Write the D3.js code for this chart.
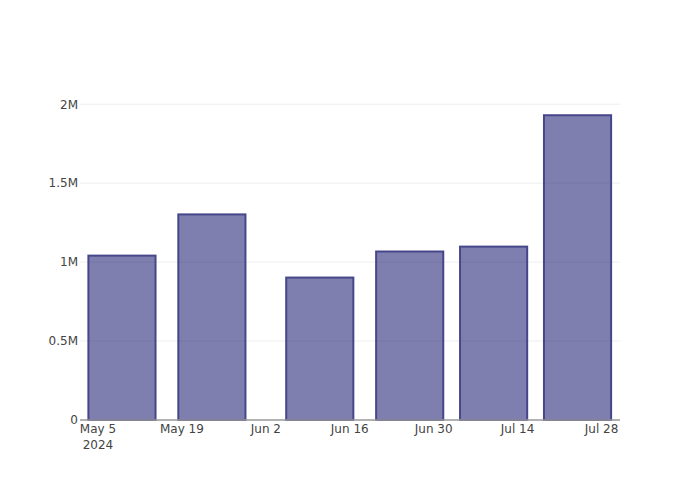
<!DOCTYPE html>
<html>
<head>
<meta charset="utf-8">
<script src="https://cdn.jsdelivr.net/npm/d3@7/dist/d3.min.js"></script>
<style>
  html, body { margin: 0; padding: 0; background: #fff; }
  svg { display: block; }
  text { font-family: "DejaVu Sans", Verdana, sans-serif; font-size: 12px; fill: #444; }
</style>
</head>
<body>
<svg id="chart" width="700" height="500"></svg>
<script>
// ---- data ----
const dates = ["2024-05-09", "2024-05-24", "2024-06-11", "2024-06-26", "2024-07-10", "2024-07-24"];
const values = [1041000, 1302000, 902000, 1067000, 1098000, 1930000];
const xRange = ["2024-05-02T00:00", "2024-07-31T02:00"];
const xTickDates = ["2024-05-05", "2024-05-19", "2024-06-02", "2024-06-16", "2024-06-30", "2024-07-14", "2024-07-28"];
const xTickLabels = [["May 5", "2024"], ["May 19"], ["Jun 2"], ["Jun 16"], ["Jun 30"], ["Jul 14"], ["Jul 28"]];
const yTickValues = [0, 500000, 1000000, 1500000, 2000000];
const yTickLabels = ["0", "0.5M", "1M", "1.5M", "2M"];

// ---- layout ----
const W = 700, H = 500;
const m = { l: 80, r: 80, t: 100, b: 80 };
const pw = W - m.l - m.r, ph = H - m.t - m.b;
const parse = s => new Date(s);

const svg = d3.select("#chart");
const x = d3.scaleTime().domain(xRange.map(parse)).range([m.l, m.l + pw]);
const y = d3.scaleLinear().domain([0, d3.max(values) * 1.05]).range([m.t + ph, m.t]);

// bar width = 0.8 * min gap
const times = dates.map(d => parse(d).getTime());
let minGap = Infinity;
for (let i = 1; i < times.length; i++) minGap = Math.min(minGap, times[i] - times[i - 1]);
const bw = minGap * 0.8;

// gridlines
svg.append("g").selectAll("line")
  .data(yTickValues.filter(v => v !== 0))
  .join("line")
  .attr("x1", m.l).attr("x2", m.l + pw)
  .attr("y1", d => y(d)).attr("y2", d => y(d))
  .attr("stroke", "#eeeeee").attr("stroke-width", 1);

// bars
svg.append("g").selectAll("rect")
  .data(dates.map((d, i) => ({ t: parse(d).getTime(), v: values[i] })))
  .join("rect")
  .attr("x", d => x(new Date(d.t - bw / 2)))
  .attr("width", d => x(new Date(d.t + bw / 2)) - x(new Date(d.t - bw / 2)))
  .attr("y", d => y(d.v))
  .attr("height", d => y(0) - y(d.v))
  .attr("fill", "rgb(0,0,95)")
  .attr("fill-opacity", 0.5)
  .attr("stroke", "rgb(70,70,138)")
  .attr("stroke-width", 2);

// x axis line
svg.append("line")
  .attr("x1", m.l).attr("x2", m.l + pw)
  .attr("y1", y(0)).attr("y2", y(0))
  .attr("stroke", "#999").attr("stroke-width", 1.3);

// y tick labels
svg.append("g").selectAll("text")
  .data(yTickValues)
  .join("text")
  .attr("x", m.l - 2)
  .attr("y", d => y(d))
  .attr("dy", "0.36em")
  .attr("text-anchor", "end")
  .text((d, i) => yTickLabels[i]);

// x tick labels
const xt = svg.append("g").selectAll("text")
  .data(xTickDates.map((d, i) => ({ t: parse(d), lines: xTickLabels[i] })))
  .join("text")
  .attr("text-anchor", "middle")
  .attr("transform", d => `translate(${x(d.t)},${y(0) + 13})`);
xt.selectAll("tspan")
  .data(d => d.lines)
  .join("tspan")
  .attr("x", 0)
  .attr("y", (d, i) => i * 16)
  .text(d => d);
</script>
</body>
</html>
